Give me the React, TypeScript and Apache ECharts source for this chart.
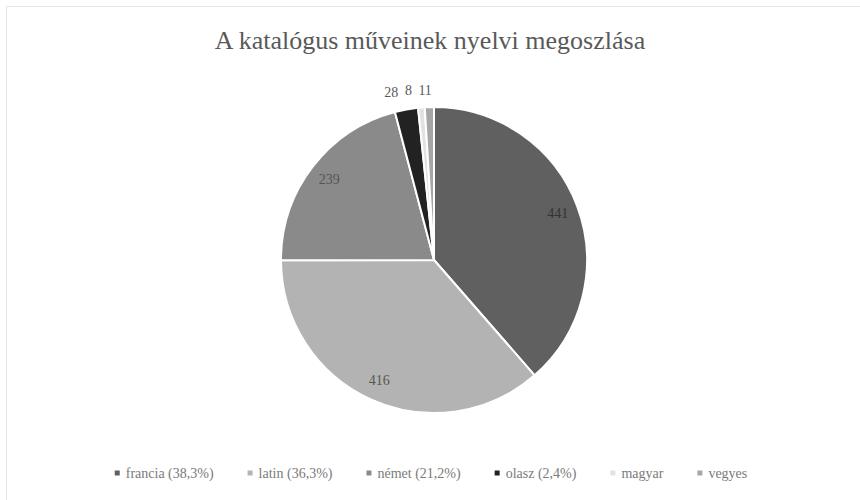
import React, { useEffect, useRef } from "react";
import * as echarts from "echarts";

const categories = ["francia", "latin", "német", "olasz", "magyar", "vegyes"];
const legendLabels = ["francia (38,3%)", "latin (36,3%)", "német (21,2%)", "olasz (2,4%)", "magyar", "vegyes"];
const values = [441, 416, 239, 28, 8, 11];
const colors = ["#606060", "#b3b3b3", "#8a8a8a", "#222222", "#e2e2e2", "#a6a6a6"];
const insideLabel = [true, true, true, false, false, false];
const labelShift = [0, 0, 0, 0, -3, 8];

const FONT = "Liberation Serif";

export default function App() {
  const ref = useRef<HTMLDivElement>(null);
  useEffect(() => {
    if (!ref.current) return;
    const chart = echarts.init(ref.current, null, { renderer: "svg" });
    const center = [434, 260];
    const R = 153;
    chart.setOption({
      animation: false,
      backgroundColor: "#ffffff",
      title: {
        text: "A katalógus műveinek nyelvi megoszlása",
        left: "center",
        top: 22,
        textStyle: { fontFamily: FONT, fontSize: 26, fontWeight: "normal", color: "#595959" },
      },
      graphic: [
        {
          type: "rect",
          shape: { x: 6.5, y: 6.5, width: 900, height: 600 },
          style: { fill: "none", stroke: "#e3e3e3", lineWidth: 1 },
          silent: true,
        },
      ],
      legend: {
        data: categories,
        bottom: 15,
        left: "center",
        itemWidth: 7,
        itemHeight: 7,
        itemGap: 32,
        icon: "rect",
        formatter: (name: string) => legendLabels[categories.indexOf(name)],
        textStyle: { fontFamily: FONT, fontSize: 14, color: "#7a7a7a" },
      },
      series: [
        {
          type: "pie",
          center,
          radius: R,
          startAngle: 90,
          clockwise: true,
          avoidLabelOverlap: false,
          labelLayout: (p: any) => ({ hideOverlap: false, dx: labelShift[p.dataIndex] || 0 }),
          itemStyle: { borderColor: "#ffffff", borderWidth: 2 },
          emphasis: { disabled: true },
          labelLine: { show: false, length: 17, length2: 0 },
          data: categories.map((c, i) => ({
            name: c,
            value: values[i],
            itemStyle: { color: colors[i] },
            label: insideLabel[i]
              ? { show: false }
              : {
                  show: true,
                  position: "outside",
                  formatter: "{c}",
                  fontFamily: FONT,
                  fontSize: 14,
                  color: "#595959",
                },
          })),
        },
        {
          type: "pie",
          center,
          radius: [R * 0.69, R],
          startAngle: 90,
          clockwise: true,
          silent: true,
          emphasis: { disabled: true },
          itemStyle: { color: "rgba(0,0,0,0)", borderWidth: 0 },
          labelLine: { show: false },
          data: categories.map((c, i) => ({
            name: c,
            value: values[i],
            label: {
              show: insideLabel[i],
              position: "inside",
              formatter: "{c}",
              fontFamily: FONT,
              fontSize: 14,
              color: i === 0 ? "#333333" : "#555555",
            },
          })),
        },
      ],
    });
    return () => chart.dispose();
  }, []);
  return (
    <div
      ref={ref}
      style={{ position: "fixed", left: 0, top: 0, width: 860, height: 500 }}
    />
  );
}
